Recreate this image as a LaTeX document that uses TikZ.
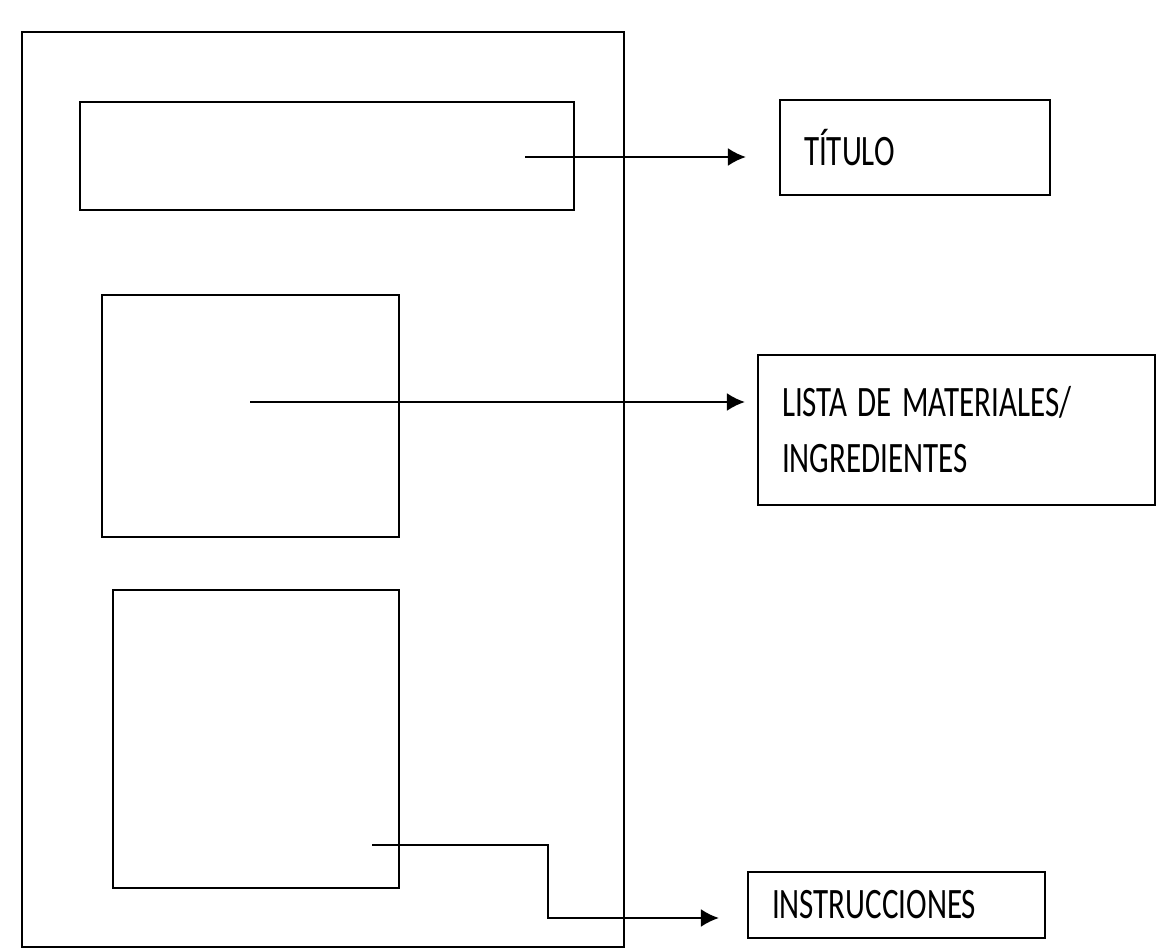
\documentclass[tikz,border=0pt]{standalone}
\usepackage{fontspec}
\setmainfont{Carlito}
\usepackage{tikz}
\usetikzlibrary{arrows.meta,positioning,calc}
\newcommand{\tall}[1]{\scalebox{1}[1.4]{#1}}
\begin{document}
\begin{tikzpicture}[x=1pt,y=-1pt,font=\fontsize{31}{56}\selectfont,>={Latex[length=18pt,width=18pt]},
 b/.style={draw,line width=2.2pt,inner sep=0pt},
 lbl/.style={draw,line width=2.2pt,align=left,inner xsep=24pt,inner ysep=0pt},
 e/.style={->,line width=2.2pt}]
\useasboundingbox (0,0) rectangle (1163,952);
% page and its parts
\node[b,minimum width=602pt,minimum height=915pt] (page) at (323,489.5) {};
\node[b,minimum width=494pt,minimum height=108pt] (head) at (327,156) {};
\node[b,minimum width=297pt,minimum height=242pt] (list) at (250.5,416) {};
\node[b,minimum width=286pt,minimum height=298pt] (steps) at (256,739) {};
% labels
\node[lbl,text width=222pt,minimum height=95pt] (titulo) at (915,147.5) {\tall{TÍTULO}};
\node[lbl,text width=349pt,minimum height=150pt] (lista) at (956.5,430) {\tall{LISTA DE MATERIALES/}\\\tall{INGREDIENTES}};
\node[lbl,text width=249pt,minimum height=66pt] (instr) at (896.5,905) {\tall{INSTRUCCIONES}};
% arrows
\coordinate (h0) at (525,157);
\coordinate (l0) at (250,402);
\coordinate (s0) at (372,845);
\coordinate (s1) at (548,918);
\draw[e,shorten >=33pt] (h0) -- (h0 -| titulo.west);
\draw[e,shorten >=12pt] (l0) -- (l0 -| lista.west);
\draw[e,shorten >=28pt] (s0) -| (s1) -- (s1 -| instr.west);
\end{tikzpicture}
\end{document}
